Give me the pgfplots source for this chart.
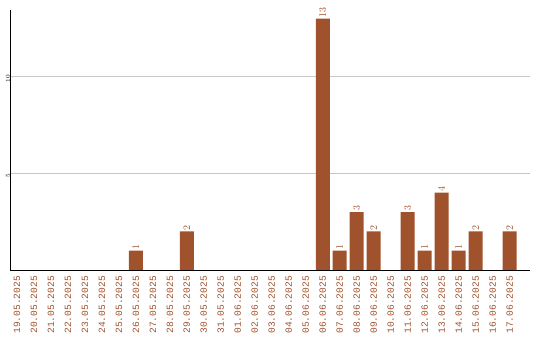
\documentclass[border=0pt]{standalone}
\usepackage{fontspec}
\setmainfont{Liberation Sans}
\newfontfamily\monofont{Liberation Mono}
\usepackage{pgfplots}
\pgfplotsset{compat=1.18}
\definecolor{barc}{HTML}{A0522D}
\definecolor{gridc}{HTML}{C8C8C8}
\begin{document}
\begin{tikzpicture}
\begin{axis}[
  at={(10bp,70bp)}, anchor=south west,
  scale only axis, width=520bp, height=260bp,
  xmin=-0.41, xmax=30.2, ymin=0, ymax=13.45,
  axis x line*=bottom, axis y line*=left,
  axis line style={black, line width=0.9pt},
  x axis line style={-}, y axis line style={-},
  xtick={0,...,29},
  xticklabels={19.05.2025,20.05.2025,21.05.2025,22.05.2025,23.05.2025,24.05.2025,25.05.2025,26.05.2025,27.05.2025,28.05.2025,29.05.2025,30.05.2025,31.05.2025,01.06.2025,02.06.2025,03.06.2025,04.06.2025,05.06.2025,06.06.2025,07.06.2025,08.06.2025,09.06.2025,10.06.2025,11.06.2025,12.06.2025,13.06.2025,14.06.2025,15.06.2025,16.06.2025,17.06.2025},
  xticklabel style={rotate=90, anchor=east, font=\monofont\fontsize{9.6}{10}\selectfont, text=barc, inner sep=0pt, xshift=0pt},
  xtick style={draw=none},
  ytick={5,10},
  yticklabel style={rotate=90, anchor=south, font=\monofont\fontsize{6}{7}\selectfont, inner sep=0pt, xshift=-2bp},
  ytick style={draw=none},
  ymajorgrids, grid style={gridc, line width=0.8pt},
  xticklabel shift=6bp,
  axis on top=false,
]
\addplot[ybar, bar width=14bp, fill=barc, draw=none,
  nodes near coords,
  every node near coord/.append style={rotate=90, anchor=west, font=\monofont\fontsize{9.6}{10}\selectfont, text=barc, inner sep=1pt, xshift=0pt}]
  coordinates {(7,1) (10,2) (18,13) (19,1) (20,3) (21,2) (23,3) (24,1) (25,4) (26,1) (27,2) (29,2)};
\end{axis}
\pgfresetboundingbox
\path (0,0) rectangle (540bp,340bp);
\end{tikzpicture}
\end{document}
